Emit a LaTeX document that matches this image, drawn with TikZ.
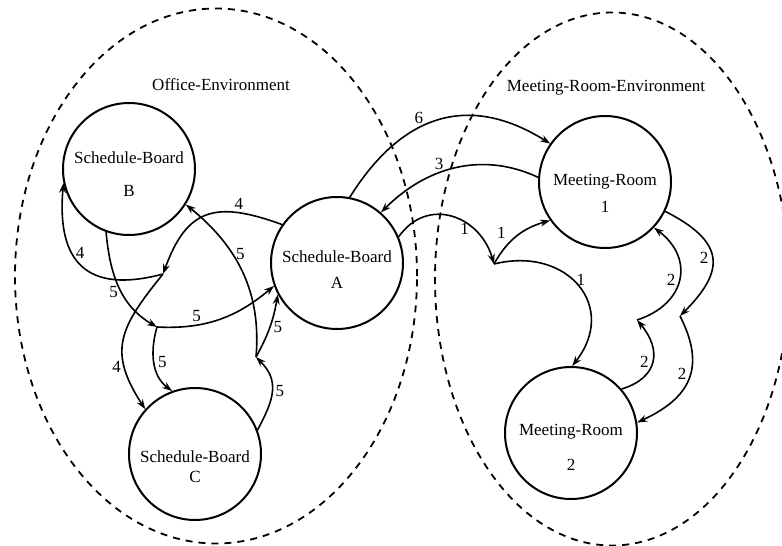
\documentclass[tikz,border=0pt]{standalone}
\usepackage{fontspec}
\setmainfont{Liberation Serif}
\usetikzlibrary{arrows.meta}

\begin{document}
\begin{tikzpicture}
[x=0.5pt, y=-0.5pt, line width=0.8pt,
 >={Stealth[length=5pt,width=3.5pt]},
 every node/.style={font=\fontsize{8.5}{10}\selectfont},
 board/.style={draw, circle, line width=1pt, minimum size=66pt, inner sep=0pt},
 env/.style={dash pattern=on 3.5pt off 3pt, line width=0.9pt},
 num/.style={inner sep=1.5pt}]
\useasboundingbox (0,0) rectangle (782,546);
% environments
\draw[env] (216,276) ellipse [x radius=100.5pt, y radius=133.75pt];
\draw[env] (612,279) ellipse [x radius=88.5pt, y radius=133.25pt];
\node (officeenv) at (221,85) {Office-Environment};
\node (roomenv) at (606,88) {Meeting-Room-Environment};
% boards and rooms
\node[board, label={[align=center, yshift=-2.75pt]center:{Schedule-Board\\[6.5pt]B}}] (B) at (129,169) {};
\node[board, label={[align=center, yshift=-3.5pt]center:{Schedule-Board\\[3pt]A}}] (A) at (337,263) {};
\node[board, label={[align=center, yshift=-6.5pt]center:{Schedule-Board\\C}}] (C) at (195,454) {};
\node[board, label={[align=center, yshift=-5.75pt]center:{Meeting-Room\\[3.5pt]1}}] (M1) at (605,182) {};
\node[board, label={[align=center, yshift=-7.25pt]center:{Meeting-Room\\[7.5pt]2}}] (M2) at (571,433) {};
% junctions
\coordinate (j1) at (163,274);
\coordinate (j2) at (157,327);
\coordinate (j3) at (256,357);
\coordinate (j4) at (494,264);
\coordinate (j5) at (680,316);
\coordinate (j6) at (637,320);
% office arrows
\draw[->] (A.145) to[out=160, in=70, looseness=1.4] node[num, pos=0.25, above] {4} (j1);
\draw[->] (j1) to[out=195, in=-95, looseness=1.5] node[num, pos=0.62, right] {4} (B.192);
\draw[->] (j1) to[out=231, in=123, looseness=1.3] node[num, pos=0.72, left] {4} (C.138);
\draw[->] (B.250) to[out=-85, in=150] node[num, pos=0.55, left] {5} (j2);
\draw[->] (j2) to[out=-3, in=-140] node[num, pos=0.3, above] {5} (A.200);
\draw[->] (j2) to[out=-106, in=143] node[num, pos=0.5, right] {5} (C.110);
\draw[->] (C.21) to[out=62, in=-45, looseness=1.2] node[num, pos=0.5, right] {5} (j3);
\draw[->] (j3) to[out=61, in=-100] node[num, pos=0.5, right] {5} (A.208);
\draw[->] (j3) to[out=85, in=-39] node[num, pos=0.62, right] {5} (B.328);
% between environments
\draw[->] (A.79) to[out=58, in=148, looseness=1.2] node[num, pos=0.4, above] {6} (M1.145);
\draw[->] (M1.176) to[out=155, in=45] node[num, pos=0.6, above] {3} (A.49);
\draw[->] (A.23) to[out=55, in=106, looseness=1.3] node[num, pos=0.7, left] {1} (j4);
\draw[->] (j4) to[out=61, in=196] node[num, pos=0.35, above left] {1} (M1.215);
\draw[->] (j4) to[out=14, in=52, looseness=1.5] node[num, pos=0.45, right] {1} (M2.89);
% room arrows
\draw[->] (M1.334) to[out=-27, in=45, looseness=1.6] node[num, pos=0.5, left] {2} (j5);
\draw[->] (j5) to[out=-63, in=25, looseness=1.3] node[num, pos=0.45, left] {2} (M2.9);
\draw[->] (M2.41) to[out=17, in=-50, looseness=1.4] node[num, pos=0.5, left] {2} (j6);
\draw[->] (j6) to[out=18, in=-37, looseness=1.4] node[num, pos=0.5, left] {2} (M1.317);
\end{tikzpicture}
\end{document}
